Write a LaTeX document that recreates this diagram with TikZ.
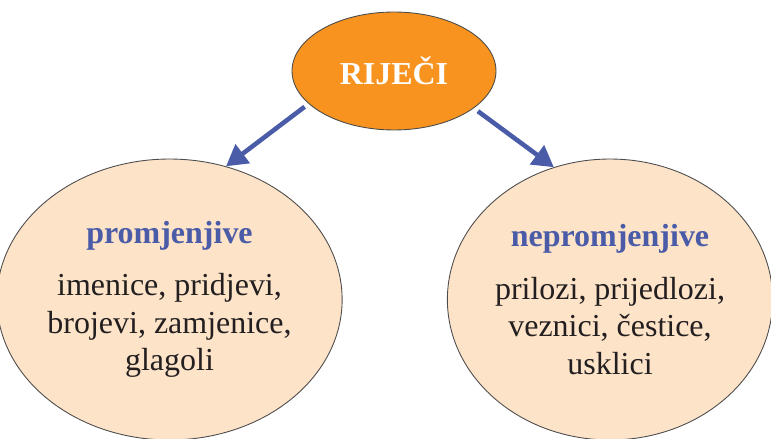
\documentclass[tikz,border=0pt]{standalone}
\usepackage{fontspec}
\setmainfont{Liberation Serif}
\usetikzlibrary{positioning, shapes.geometric, arrows.meta}
\definecolor{rjorange}{HTML}{F7931E}
\definecolor{rjpeach}{HTML}{FDE3C8}
\definecolor{rjblue}{HTML}{4A5BA8}
\definecolor{rjtext}{HTML}{231F20}

\begin{document}
\begin{tikzpicture}[x=0.02cm, y=0.02cm,
        vrsta/.style={ellipse, draw=black!70, line width=0.5pt, fill=rjpeach, minimum width=6.42cm, minimum height=5.62cm, align=center, inner sep=0pt, text=rjtext, font=\fontsize{18.2}{21.3}\selectfont},
        strelica/.style={draw=rjblue, line width=2.6pt, -{Triangle[length=0.42cm, width=0.46cm]}, shorten <=0.1cm}]
        \useasboundingbox (0,0) rectangle (771,439);
        \node[ellipse, draw=black!70, line width=0.5pt, fill=rjorange, minimum width=4.08cm, minimum height=2.36cm, text=white, font=\fontsize{18.2}{21.3}\selectfont\bfseries] (rijeci) at (394,368) {RIJEČI};
        \node[vrsta] (promj) at (169.5,139.5) {\textcolor{rjblue}{\bfseries promjenjive}\\[0.3cm] imenice, pridjevi,\\ brojevi, zamjenice,\\ glagoli};
        \node[vrsta] (nepromj) at (610,139.5) {\textcolor{rjblue}{\bfseries nepromjenjive}\\[0.3cm] prilozi, prijedlozi,\\ veznici, čestice,\\ usklici};
        \draw[strelica] (rijeci.201.8) -- (promj.67);
        \draw[strelica] (rijeci.335) -- (nepromj.113);
    \end{tikzpicture}
\end{document}
